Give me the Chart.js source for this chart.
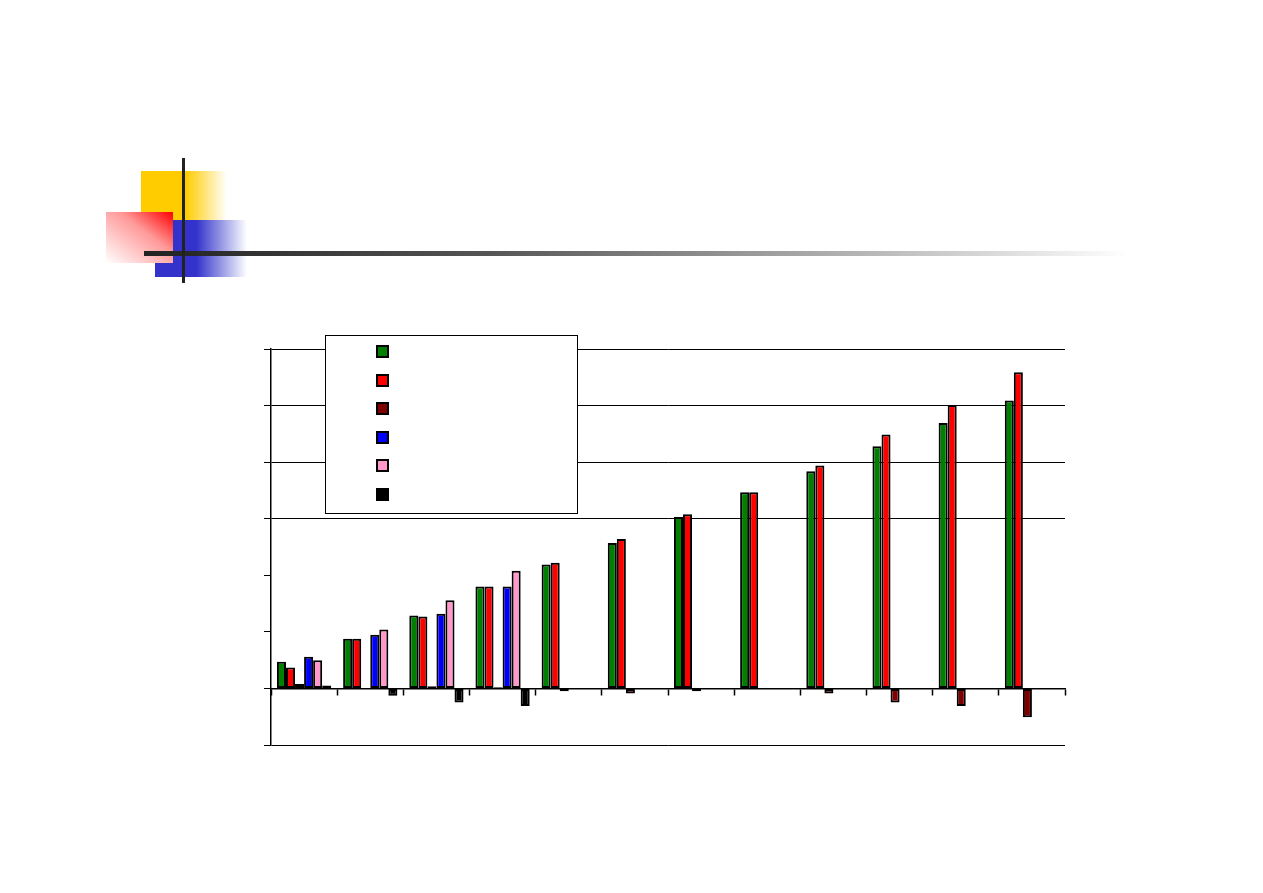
<!DOCTYPE html>
<html>
<head>
<meta charset="utf-8">
<script src="https://cdn.jsdelivr.net/npm/chart.js@4/dist/chart.umd.min.js"></script>
<style>
  body { margin: 0; background: #fff; font-family: "Liberation Sans", Arial, sans-serif; }
  #wrap { position: relative; width: 1263px; height: 893px; overflow: hidden; }
  #chart { position: absolute; left: 0; top: 0; }
  .deco { position: absolute; }
  #legend {
    position: absolute; left: 325px; top: 335px; width: 251px; height: 177px;
    border: 1px solid #000; background: #fff;
  }
  #legend .sw {
    position: absolute; left: 50px; width: 9px; height: 9px; border: 2px solid #000;
  }
</style>
</head>
<body>
<div id="wrap">
  <!-- title decoration -->
  <div class="deco" style="left:141px;top:171px;width:86px;height:49px;background:linear-gradient(to right,#ffcc00 0%,#ffcc00 52%,rgba(255,204,0,0) 100%);"></div>
  <div class="deco" style="left:155px;top:220px;width:92px;height:57px;background:linear-gradient(to right,#3333cc 0%,#3333cc 45%,rgba(51,51,204,0) 100%);"></div>
  <div class="deco" style="left:106px;top:212px;width:67px;height:51px;background:linear-gradient(to bottom left,#ff0000 0%,#ff9999 40%,#ffffff 100%);"></div>
  <div class="deco" style="left:144px;top:251px;width:985px;height:5px;background:linear-gradient(to right,#222 0%,#555 35%,#bbb 75%,#fff 100%);"></div>
  <div class="deco" style="left:182px;top:158px;width:3px;height:125px;background:#222;"></div>

  <canvas id="chart" width="1263" height="893"></canvas>
  <div id="legend"></div>
</div>
<script>
const categories = ['1', '2', '3', '4', '5', '6', '7', '8', '9', '10', '11', '12'];
const seriesNames = ['Series 1', 'Series 2', 'Series 3', 'Series 4', 'Series 5', 'Series 6'];
const seriesColors = ['#008000', '#ff0000', '#800000', '#0000ff', '#ff99cc', '#000000'];

const green   = [0.47, 0.88, 1.29, 1.80, 2.19, 2.57, 3.03, 3.47, 3.84, 4.28, 4.69, 5.09];
const red     = [0.37, 0.88, 1.27, 1.80, 2.22, 2.64, 3.08, 3.47, 3.94, 4.49, 5.01, 5.59];
const darkRed = [0.08, null, 0.04, 0.02, -0.05, -0.09, -0.05, null, -0.09, -0.25, -0.31, -0.51];
const blue    = [0.56, 0.95, 1.32, 1.80, null, null, null, null, null, null, null, null];
const pink    = [0.50, 1.04, 1.56, 2.08, null, null, null, null, null, null, null, null];
const black   = [0.05, -0.13, -0.25, -0.31, null, null, null, null, null, null, null, null];

const yMin = -1, yMax = 6, yStep = 1;
const gridValues = [-1, 3, 4, 5, 6];

const seriesData = [green, red, darkRed, blue, pink, black];

const datasets = seriesData.map((d, i) => ({
  label: seriesNames[i],
  data: d,
  backgroundColor: seriesColors[i],
  borderColor: '#000',
  borderWidth: 2,
  borderSkipped: false,
  categoryPercentage: 0.82,
  barPercentage: 1.0
}));

new Chart('chart', {
  type: 'bar',
  data: { labels: categories, datasets: datasets },
  options: {
    responsive: false,
    animation: false,
    layout: { padding: { left: 264, top: 349, right: 198, bottom: 148 } },
    plugins: { legend: { display: false }, tooltip: { enabled: false } },
    scales: {
      x: {
        position: { y: 0 },
        grid: { drawOnChartArea: false, drawTicks: true, tickLength: 6, color: '#000', tickWidth: 1.5 },
        border: { color: '#000', width: 1.5 },
        ticks: { display: false }
      },
      y: {
        min: yMin, max: yMax,
        ticks: { stepSize: yStep, display: false },
        grid: {
          color: ctx => gridValues.includes(ctx.tick && ctx.tick.value) ? '#000' : 'rgba(0,0,0,0)',
          tickColor: '#000',
          tickLength: 7,
          lineWidth: 1
        },
        border: { color: '#000', width: 1.5 }
      }
    }
  }
});

// legend box (no text in the original)
const legend = document.getElementById('legend');
seriesColors.forEach((c, i) => {
  const s = document.createElement('div');
  s.className = 'sw';
  s.style.top = (9 + i * 28.5) + 'px';
  s.style.background = c;
  legend.appendChild(s);
});
</script>
</body>
</html>
